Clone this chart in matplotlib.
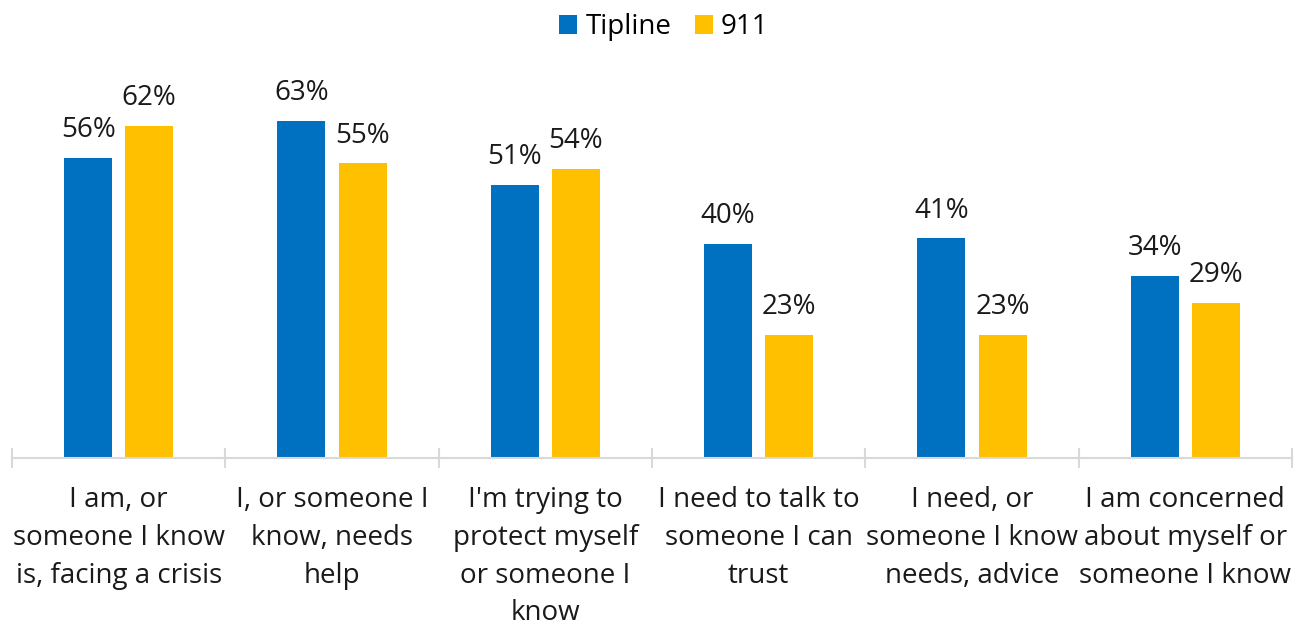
import numpy as np
import matplotlib.pyplot as plt

plt.rcParams['font.family'] = ['Open Sans', 'DejaVu Sans']

categories = [
    "I am, or\nsomeone I know\nis, facing a crisis",
    "I, or someone I\nknow, needs\nhelp",
    "I'm trying to\nprotect myself\nor someone I\nknow",
    "I need to talk to\nsomeone I can\ntrust",
    "I need, or\nsomeone I know\nneeds, advice",
    "I am concerned\nabout myself or\nsomeone I know",
]
tipline = [56, 63, 51, 40, 41, 34]
nine11 = [62, 55, 54, 23, 23, 29]

blue = "#0070C0"
gold = "#FFC000"
grid_gray = "#D9D9D9"
ink = "#1a1a1a"
fs = 20

W, H = 1295, 624
fig = plt.figure(figsize=(W / 100, H / 100), dpi=100)
# axes placed in pixel terms: x 12..1292, baseline at y=458
ax = fig.add_axes([12 / W, (H - 458) / H, 1280 / W, 378 / H])

x = np.arange(len(categories))
bw = 0.225
off = 0.143
b1 = ax.bar(x - off, tipline, bw, color=blue, label="Tipline")
b2 = ax.bar(x + off, nine11, bw, color=gold, label="911")

for bars, vals in ((b1, tipline), (b2, nine11)):
    for rect, v in zip(bars, vals):
        ax.annotate(f"{v}%", (rect.get_x() + rect.get_width() / 2, v),
                    xytext=(0, 10), textcoords="offset points",
                    ha="center", va="bottom", fontsize=fs, color=ink)

ax.set_xlim(-0.5, len(categories) - 0.5)
ax.set_ylim(0, 378 / 5.355)

for s in ("top", "right", "left"):
    ax.spines[s].set_visible(False)
ax.spines["bottom"].set_color(grid_gray)
ax.spines["bottom"].set_linewidth(1.5)
ax.set_yticks([])

# category boundaries as tick marks crossing the axis
ax.set_xticks(np.arange(len(categories) + 1) - 0.5, minor=True)
ax.tick_params(axis="x", which="minor", direction="inout", length=14,
               width=1.5, color=grid_gray)
ax.set_xticks(x)
ax.set_xticklabels(categories, fontsize=fs, color=ink, linespacing=1.47)
ax.tick_params(axis="x", which="major", length=0, pad=20)

fig.legend(handles=[b1, b2], loc="center",
           bbox_to_anchor=(664 / W, 1 - 27 / H),
           ncol=2, frameon=False, fontsize=fs, handlelength=0.65,
           handleheight=0.65, handletextpad=0.3, columnspacing=0.83)

fig.savefig("out.png", dpi=100)
